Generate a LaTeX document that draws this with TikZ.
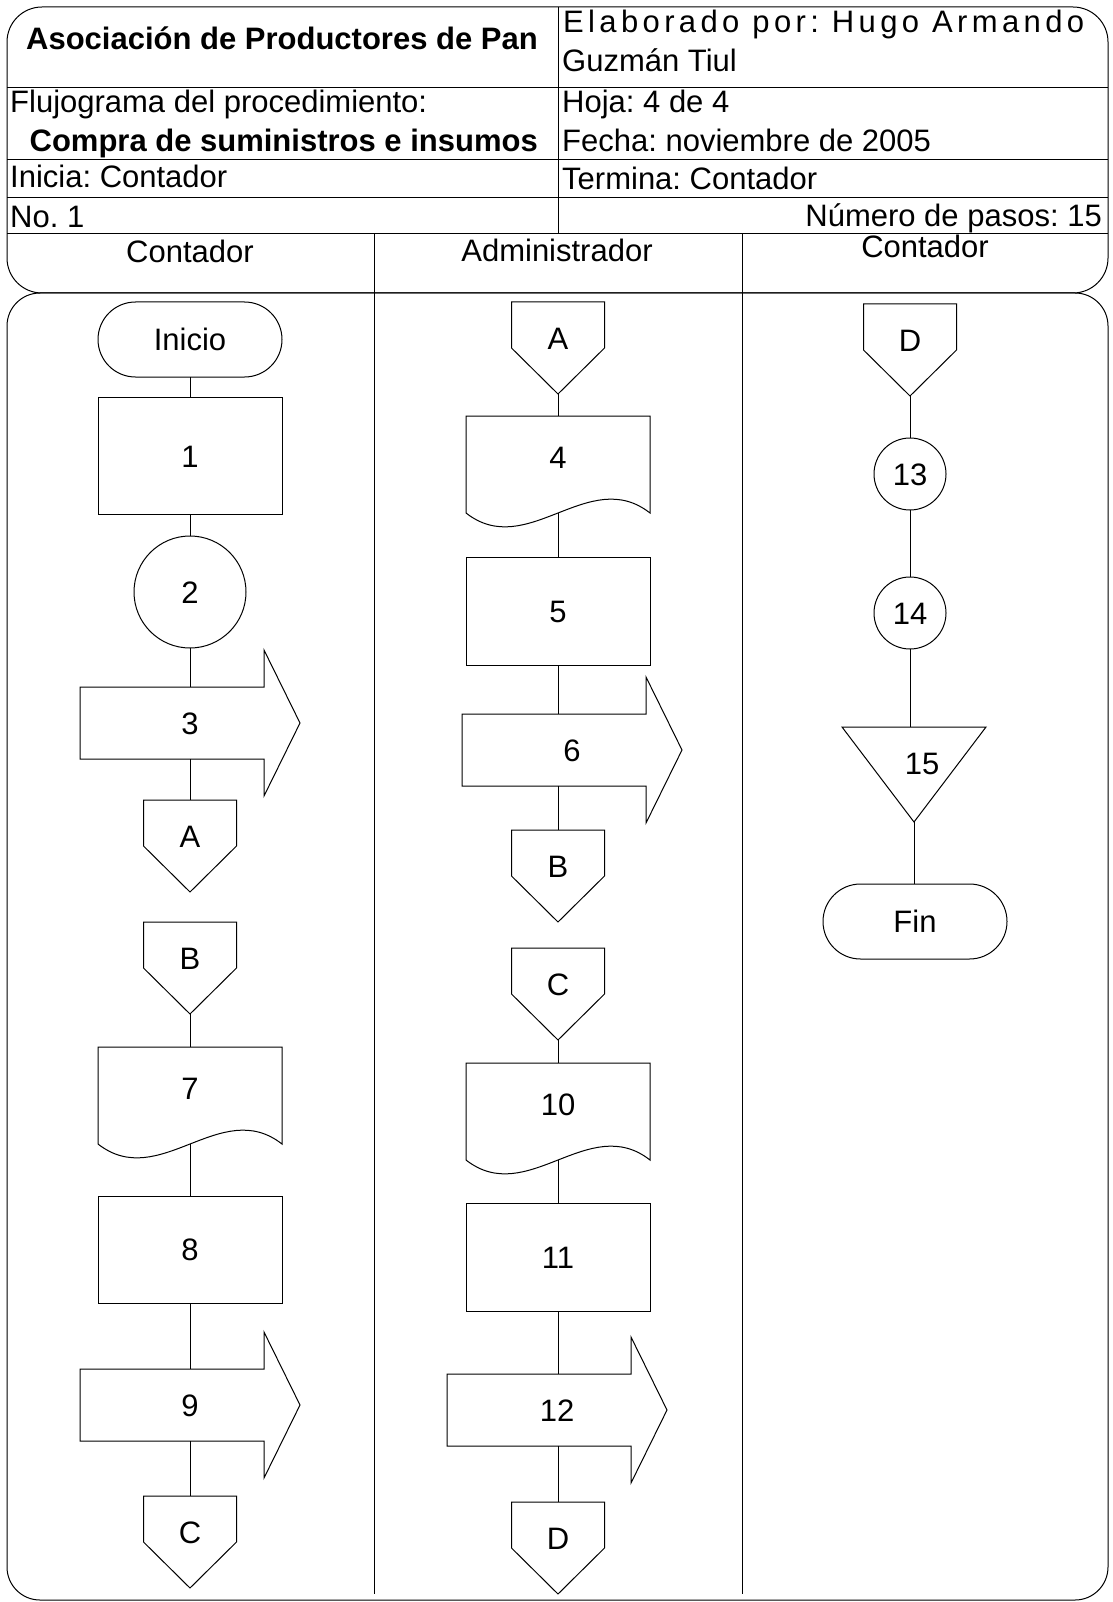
\documentclass[tikz,border=0pt]{standalone}
\usepackage{fontspec}
\setmainfont{Liberation Sans}
\usetikzlibrary{shapes.misc,calc}
\frenchspacing
\newcommand\fsz{\fontsize{31}{37}\selectfont}
% off-page connector: name, cx, top y, label
\newcommand\offpg[4]{%
  \node[hit, minimum width=93pt, minimum height=92pt, anchor=north] (#1) at (#2,#3) {};
  \draw[ln] (#1.north west) -- (#1.north east) -- ($(#1.north east)+(0,46)$) -- (#1.south) -- ($(#1.north west)+(0,46)$) -- cycle;
  \node[txt] (#1t) at (#2,#3+36) {#4};
}
% document: name, cx, top y, label
\newcommand\docu[4]{%
  \node[hit, minimum width=184pt, minimum height=97pt, anchor=north] (#1) at (#2,#3) {};
  \draw[ln] (#1.south west) -- (#1.north west) -- (#1.north east) -- (#1.south east)
     .. controls ($(#1.south east)+(-61.3,-48)$) and ($(#1.south west)+(61.3,48)$) .. (#1.south west);
  \node[txt] (#1t) at (#2,#3+41) {#4};
}
% off-line arrow: name, body left x, centre y, label
\newcommand\flecha[4]{%
  \node[hit, minimum width=184pt, minimum height=72pt] (#1) at (#2+92,#3) {};
  \draw[ln] (#1.south west) -- (#1.north west) -- (#1.north east) -- ++(0,-37)
     -- ($(#1.east)+(36,0)$) -- ($(#1.south east)+(0,37)$) -- (#1.south east) -- cycle;
  \node[txt] (#1t) at (#2+110,#3) {#4};
}
\begin{document}
\begin{tikzpicture}[x=1pt,y=-1pt,
  ln/.style={line width=1pt, line join=miter},
  txt/.style={font=\fsz, inner sep=0pt, text height=22pt, text depth=0pt},
  hdr/.style={font=\fsz, inner sep=0pt},
  hdrb/.style={font=\fsz\bfseries, inner sep=0pt},
  hit/.style={draw=none, inner sep=0pt, outer sep=0pt},
  proc/.style={ln, draw, rectangle, minimum width=184pt, minimum height=#1, inner sep=0pt, outer sep=0pt, font=\fsz, text height=22pt, text depth=0pt},
  term/.style={ln, draw, rounded rectangle, minimum width=184pt, minimum height=75pt, inner sep=0pt, outer sep=0pt, font=\fsz, text height=22pt, text depth=0pt},
  conn/.style={ln, draw, circle, minimum size=#1, inner sep=0pt, outer sep=0pt, font=\fsz, text height=22pt, text depth=0pt},
]
\fill[white] (0,0) rectangle (1112,1602);
\useasboundingbox (0,0) rectangle (1112,1602);

% ---------- frames ----------
\draw[ln, rounded corners=35pt] (7,7) rectangle (1108,293);
\draw[ln, rounded corners=33pt] (7,293) rectangle (1108,1600);
\draw[ln] (558,7) -- (558,234);
\foreach \yy in {88,160,198,234} \draw[ln] (7,\yy) -- (1108,\yy);
\draw[ln] (374,234) -- (374,1594);
\draw[ln] (742,234) -- (742,1594);

% ---------- header texts ----------
\node[hdrb, anchor=base east] (tit) at (538,50) {Asociación de Productores de Pan};
\node[hdr, anchor=base west] (elab) at (563,33) {\hbox to 521pt{E\hfil l\hfil a\hfil b\hfil o\hfil r\hfil a\hfil d\hfil o\ \hfil p\hfil o\hfil r\hfil :\ \hfil H\hfil u\hfil g\hfil o\ \hfil A\hfil r\hfil m\hfil a\hfil n\hfil d\hfil o}};
\node[hdr, anchor=base west] (guz) at (562,72) {Guzmán Tiul};
\node[hdr, anchor=base west] (fluj) at (10,113) {Flujograma del procedimiento:};
\node[hdrb, anchor=base east] (comp) at (538,152) {Compra de suministros e insumos};
\node[hdr, anchor=base west] (hoja) at (562,113) {Hoja: 4 de 4};
\node[hdr, anchor=base west] (fecha) at (562,152) {Fecha: noviembre de 2005};
\node[hdr, anchor=base west] (inic) at (10,188) {Inicia: Contador};
\node[hdr, anchor=base west] (term) at (562,190) {Termina: Contador};
\node[hdr, anchor=base west] (nro) at (10,228) {No. 1};
\node[hdr, anchor=base east] (pasos) at (1102,227) {Número de pasos: 15};
\node[hdr, anchor=base] (lane1) at (190,263) {Contador};
\node[hdr, anchor=base] (lane2) at (557,262) {Administrador};
\node[hdr, anchor=base] (lane3) at (925,258) {Contador};

% ---------- lane 1 ----------
\node[term] (ini) at (190,339.5) {Inicio};
\node[proc=117pt] (p1) at (190,456) {1};
\node[conn=112pt] (p2) at (190,592) {2};
\flecha{p3}{80}{723}{3}
\offpg{a1}{190}{800}{A}
\offpg{b1}{190}{922}{B}
\docu{p7}{190}{1047}{7}
\node[proc=107pt] (p8) at (190,1249.5) {8};
\flecha{p9}{80}{1405}{9}
\offpg{c1}{190}{1496}{C}

% ---------- lane 2 ----------
\offpg{a2}{558}{302}{A}
\docu{p4}{558}{416}{4}
\node[proc=108pt] (p5) at (558,611) {5};
\flecha{p6}{462}{750}{6}
\offpg{b2}{558}{830}{B}
\offpg{c2}{558}{948}{C}
\docu{p10}{558}{1063}{10}
\node[proc=108pt] (p11) at (558,1257) {11};
\flecha{p12}{447}{1410}{12}
\offpg{d2}{558}{1502}{D}

% ---------- lane 3 ----------
\offpg{d3}{910}{304}{D}
\node[conn=72pt] (p13) at (910,474) {13};
\node[conn=72pt] (p14) at (910,613) {14};
\node[hit, minimum width=144pt, minimum height=95pt, anchor=north] (p15) at (914,727) {};
\draw[ln] (p15.north west) -- (p15.north east) -- (p15.south) -- cycle;
\node[txt] (p15t) at (922,763) {15};
\node[term] (fin) at (915,921.5) {Fin};

% ---------- connectors ----------
\draw[ln] (ini.south) -- (ini.south |- p1.north);
\draw[ln] (p1.south) -- (p1.south |- p2.north);
\draw[ln] (p2.south) -- (p2.south |- p3.north);
\draw[ln] (a1.north |- p3.south) -- (a1.north);
\draw[ln] (b1.south) -- (b1.south |- p7.north);
\draw[ln] (p7.south) -- (p7.south |- p8.north);
\draw[ln] (p8.south) -- (p8.south |- p9.north);
\draw[ln] (c1.north |- p9.south) -- (c1.north);

\draw[ln] (a2.south) -- (a2.south |- p4.north);
\draw[ln] (p4.south) -- (p4.south |- p5.north);
\draw[ln] (p5.south) -- (p5.south |- p6.north);
\draw[ln] (b2.north |- p6.south) -- (b2.north);
\draw[ln] (c2.south) -- (c2.south |- p10.north);
\draw[ln] (p10.south) -- (p10.south |- p11.north);
\draw[ln] (p11.south) -- (p11.south |- p12.north);
\draw[ln] (d2.north |- p12.south) -- (d2.north);

\draw[ln] (d3.south) -- (d3.south |- p13.north);
\draw[ln] (p13.south) -- (p13.south |- p14.north);
\draw[ln] (p14.south) -- (p14.south |- p15.north);
\draw[ln] (p15.south) -- (p15.south |- fin.north);
\end{tikzpicture}
\end{document}
